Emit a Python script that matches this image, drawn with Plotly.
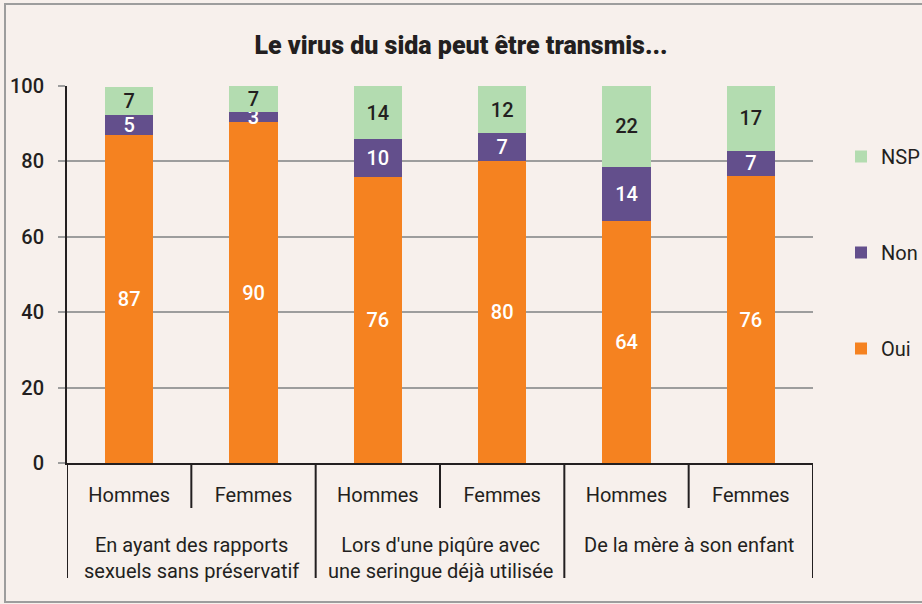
import plotly.graph_objects as go

groups = ["En ayant des rapports<br>sexuels sans préservatif",
          "Lors d'une piqûre avec<br>une seringue déjà utilisée",
          "De la mère à son enfant"]
sexes = ["Hommes", "Femmes", "Hommes", "Femmes", "Hommes", "Femmes"]
# shares (%); labels show them rounded
oui = [87.0, 90.4, 75.9, 80.1, 64.2, 76.1]
non = [5.4, 2.7, 10.0, 7.4, 14.3, 6.7]
nsp = [7.4, 6.9, 14.1, 12.4, 21.6, 17.2]

title = "Le virus du sida peut être transmis..."
FONT = "Roboto, sans-serif"
BG = "#f7f0ec"
DARK = "#231f20"

x = list(range(len(sexes)))
W, H = 922, 604
L, R, T, B = 67, 109, 86, 141
pw, ph = W - L - R, H - T - B

fig = go.Figure()
series = [("Oui", oui, "#f58220", "white", 3),
          ("Non", non, "#634f8c", "white", 2),
          ("NSP", nsp, "#b3dcb0", DARK, 1)]
for name, vals, col, tcol, rank in series:
    fig.add_trace(go.Bar(
        x=x, y=vals, name=name, marker=dict(color=col, line=dict(width=0)),
        width=0.39, texttemplate="%{y:.0f}", textposition="inside",
        insidetextanchor="middle", textangle=0,
        textfont=dict(family=FONT, size=20, color=tcol, weight=500),
        legendgroup=name, legendrank=rank, hoverinfo="skip",
    ))

shapes = []
for g in range(len(groups)):
    xb = 2 * g + 0.5
    shapes.append(dict(type="line", xref="x", yref="paper", x0=xb, x1=xb,
                       y0=0, y1=-45 / ph, line=dict(color=DARK, width=2)))
for g in range(len(groups) + 1):
    xb = 2 * g - 0.5
    shapes.append(dict(type="line", xref="x", yref="paper", x0=xb, x1=xb,
                       y0=0, y1=-115 / ph, line=dict(color=DARK, width=2)))
shapes.append(dict(type="rect", xref="paper", yref="paper",
                   x0=(5 - L) / pw, x1=(925 - L) / pw,
                   y0=(H - B - 602) / ph, y1=(H - B - 4) / ph,
                   line=dict(color="#9d9d9d", width=2), layer="below"))

annotations = []
for g, lab in enumerate(groups):
    annotations.append(dict(x=2 * g + 0.5, xref="x", y=-(531 - (H - B)) / ph,
                            yref="paper", text=lab, showarrow=False,
                            font=dict(family=FONT, size=20, color=DARK),
                            xanchor="center", yanchor="top", align="center"))

fig.update_layout(
    width=W, height=H,
    margin=dict(l=L, r=R, t=T, b=B, autoexpand=False),
    paper_bgcolor=BG, plot_bgcolor=BG,
    barmode="stack",
    title=dict(text=title, x=0.5, xanchor="center",
               y=1 - 45 / H, yanchor="middle",
               font=dict(family=FONT, size=25, color=DARK, weight=900)),
    uniformtext=dict(minsize=20, mode="show"),
    showlegend=True,
    legend=dict(x=(841 - L) / pw, xanchor="left", y=(H - B - 137) / ph,
                yanchor="top", traceorder="grouped",
                tracegroupgap=67, bgcolor="rgba(0,0,0,0)",
                font=dict(family=FONT, size=20, color=DARK),
                itemwidth=30),
    xaxis=dict(range=[-0.5, len(sexes) - 0.5], tickvals=x, ticktext=sexes,
               showgrid=False, zeroline=False, showline=True,
               linecolor=DARK, linewidth=2, ticks="",
               ticklabelstandoff=13,
               tickfont=dict(family=FONT, size=20, color=DARK)),
    yaxis=dict(range=[0, 100], tickvals=[0, 20, 40, 60, 80, 100],
               showgrid=True, gridcolor="#9d9d9d", gridwidth=1.5,
               zeroline=False, showline=True, linecolor=DARK, linewidth=2,
               ticks="outside", ticklen=7, tickcolor="#9d9d9d", tickwidth=1.5,
               ticklabelstandoff=10,
               tickfont=dict(family=FONT, size=20, color=DARK, weight=500)),
    shapes=shapes, annotations=annotations,
)

fig.write_html("out.html", config={"displayModeBar": False},
               post_script="document.body.style.margin='0';"
                           "document.body.style.overflow='hidden';")
